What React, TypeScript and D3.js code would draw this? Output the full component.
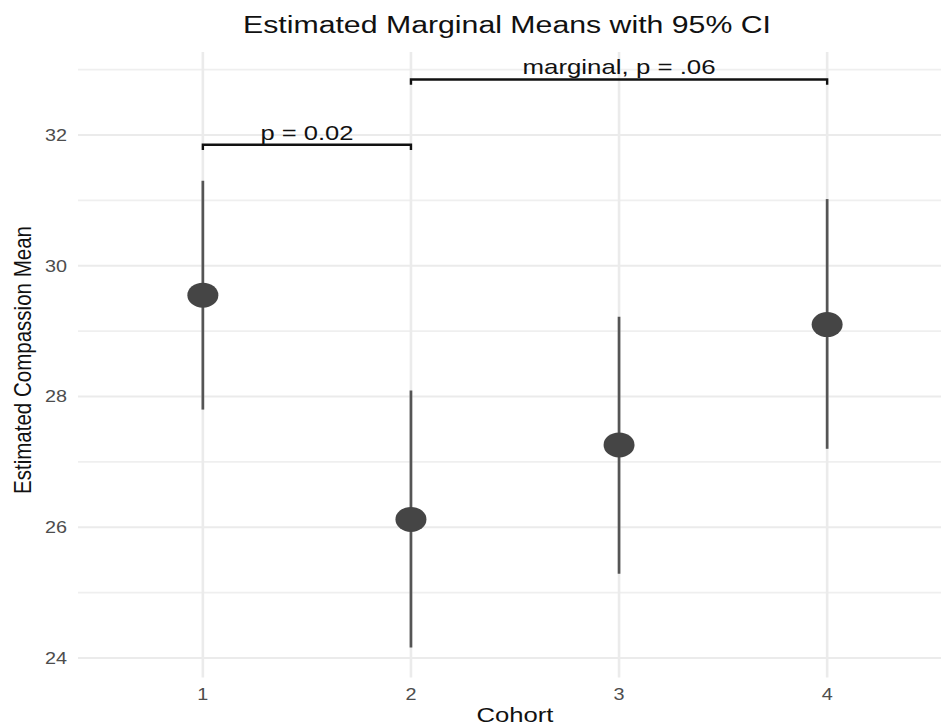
import React, { useEffect, useRef } from 'react';
import * as d3 from 'd3';

// estimated marginal means per cohort, with 95% CI bounds
const cohorts = ['1', '2', '3', '4'];
const means = [29.55, 26.12, 27.26, 29.1];
const lower = [27.8, 24.16, 25.29, 27.2];
const upper = [31.3, 28.09, 29.22, 31.02];

const yMajor = [24, 26, 28, 30, 32];
const yMinor = [25, 27, 29, 31, 33];

// pairwise comparison brackets
const bracketFrom = ['1', '2'];
const bracketTo = ['2', '4'];
const bracketY = [31.85, 32.85];
const bracketLabels = ['p = 0.02', 'marginal, p = .06'];

const W = 941;
const H = 726;
const FONT = '"Liberation Sans", Arial, Helvetica, sans-serif';

function App() {
  const ref = useRef<SVGSVGElement | null>(null);

  useEffect(() => {
    const svg = d3.select(ref.current);
    svg.selectAll('*').remove();

    const x = d3.scalePoint<string>()
      .domain(cohorts)
      .range([78, 952])
      .padding(0.6);

    const y = d3.scaleLinear()
      .domain([24, 32])
      .range([658, 135]);

    const panelTop = y(33.27);
    const panelBottom = y(23.7);

    svg.append('rect')
      .attr('width', W)
      .attr('height', H)
      .attr('fill', '#ffffff');

    // grid
    const grid = svg.append('g');
    grid.selectAll('line.minor')
      .data(yMinor)
      .enter()
      .append('line')
      .attr('class', 'minor')
      .attr('x1', 78)
      .attr('x2', 952)
      .attr('y1', d => y(d))
      .attr('y2', d => y(d))
      .attr('stroke', '#efefef')
      .attr('stroke-width', 1.8);

    grid.selectAll('line.major')
      .data(yMajor)
      .enter()
      .append('line')
      .attr('class', 'major')
      .attr('x1', 78)
      .attr('x2', 952)
      .attr('y1', d => y(d))
      .attr('y2', d => y(d))
      .attr('stroke', '#ebebeb')
      .attr('stroke-width', 2.2);

    grid.selectAll('line.vert')
      .data(cohorts)
      .enter()
      .append('line')
      .attr('class', 'vert')
      .attr('x1', d => x(d) as number)
      .attr('x2', d => x(d) as number)
      .attr('y1', panelTop)
      .attr('y2', panelBottom)
      .attr('stroke', '#ebebeb')
      .attr('stroke-width', 2.6);

    // y tick labels (picture is stretched a bit horizontally)
    svg.append('g')
      .selectAll('text')
      .data(yMajor)
      .enter()
      .append('text')
      .attr('transform', d => `translate(67, ${y(d)}) scale(1.2, 1)`)
      .attr('dy', '0.36em')
      .attr('text-anchor', 'end')
      .attr('font-family', FONT)
      .attr('font-size', 16.5)
      .attr('fill', '#4d4d4d')
      .text(d => d);

    // x tick labels
    svg.append('g')
      .selectAll('text')
      .data(cohorts)
      .enter()
      .append('text')
      .attr('transform', d => `translate(${x(d)}, 700) scale(1.2, 1)`)
      .attr('text-anchor', 'middle')
      .attr('font-family', FONT)
      .attr('font-size', 16.5)
      .attr('fill', '#4d4d4d')
      .text(d => d);

    // error bars
    svg.append('g')
      .selectAll('line')
      .data(cohorts)
      .enter()
      .append('line')
      .attr('x1', d => x(d) as number)
      .attr('x2', d => x(d) as number)
      .attr('y1', (d, i) => y(lower[i]))
      .attr('y2', (d, i) => y(upper[i]))
      .attr('stroke', '#555555')
      .attr('stroke-width', 2.7);

    // points
    svg.append('g')
      .selectAll('ellipse')
      .data(cohorts)
      .enter()
      .append('ellipse')
      .attr('cx', d => x(d) as number)
      .attr('cy', (d, i) => y(means[i]))
      .attr('rx', 15.5)
      .attr('ry', 12.5)
      .attr('fill', '#454545');

    // brackets
    const tick = 0.08;
    const br = svg.append('g');
    bracketY.forEach((v, i) => {
      const x1 = x(bracketFrom[i]) as number;
      const x2 = x(bracketTo[i]) as number;
      const path = d3.path();
      path.moveTo(x1, y(v - tick));
      path.lineTo(x1, y(v));
      path.lineTo(x2, y(v));
      path.lineTo(x2, y(v - tick));
      br.append('path')
        .attr('d', path.toString())
        .attr('fill', 'none')
        .attr('stroke', '#111111')
        .attr('stroke-width', 2.4);
    });

    br.selectAll('text')
      .data(bracketLabels)
      .enter()
      .append('text')
      .attr('x', (d, i) => ((x(bracketFrom[i]) as number) + (x(bracketTo[i]) as number)) / 2)
      .attr('y', (d, i) => y(bracketY[i]) - 5)
      .attr('text-anchor', 'middle')
      .attr('font-family', FONT)
      .attr('font-size', 21)
      .attr('fill', '#111111')
      .attr('textLength', (d, i) => (i === 0 ? 93 : 193))
      .attr('lengthAdjust', 'spacingAndGlyphs')
      .text(d => d);

    // titles
    svg.append('text')
      .attr('x', 507)
      .attr('y', 33)
      .attr('text-anchor', 'middle')
      .attr('font-family', FONT)
      .attr('font-size', 23.5)
      .attr('fill', '#111111')
      .attr('textLength', 528)
      .attr('lengthAdjust', 'spacingAndGlyphs')
      .text('Estimated Marginal Means with 95% CI');

    svg.append('text')
      .attr('x', 515)
      .attr('y', 722)
      .attr('text-anchor', 'middle')
      .attr('font-family', FONT)
      .attr('font-size', 20)
      .attr('fill', '#111111')
      .attr('textLength', 77)
      .attr('lengthAdjust', 'spacingAndGlyphs')
      .text('Cohort');

    svg.append('text')
      .attr('transform', 'translate(31, 360) rotate(-90) scale(1, 1.2)')
      .attr('text-anchor', 'middle')
      .attr('font-family', FONT)
      .attr('font-size', 19.5)
      .attr('fill', '#111111')
      .attr('textLength', 268)
      .attr('lengthAdjust', 'spacingAndGlyphs')
      .text('Estimated Compassion Mean');
  }, []);

  return (
    <svg
      ref={ref}
      width={W}
      height={H}
      style={{ position: 'absolute', left: 0, top: 0, display: 'block' }}
    />
  );
}

export default App;
